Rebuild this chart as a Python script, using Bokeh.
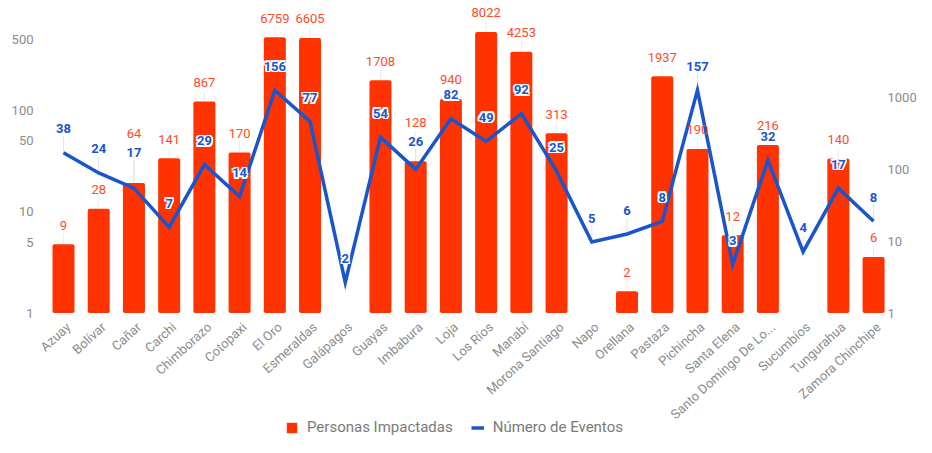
import math
from bokeh.plotting import figure
from bokeh.models import (ColumnDataSource, Range1d, LogScale, LogAxis, FixedTicker,
                          Legend, LegendItem)
from bokeh.core.properties import value
from bokeh.embed import file_html
from bokeh.resources import INLINE

# ---------------- data ----------------
provincias = ["Azuay", "Bolívar", "Cañar", "Carchi", "Chimborazo", "Cotopaxi", "El Oro",
              "Esmeraldas", "Galápagos", "Guayas", "Imbabura", "Loja", "Los Ríos", "Manabí",
              "Morona Santiago", "Napo", "Orellana", "Pastaza", "Pichincha", "Santa Elena",
              "Santo Domingo De Lo...", "Sucumbíos", "Tungurahua", "Zamora Chinchipe"]
personas = [9, 28, 64, 141, 867, 170, 6759, 6605, None, 1708, 128, 940, 8022, 4253, 313,
            None, 2, 1937, 190, 12, 216, None, 140, 6]
eventos = [38, 24, 17, 7, 29, 14, 156, 77, 2, 54, 26, 82, 49, 92, 25, 5, 6, 8, 157, 3, 32,
           4, 17, 8]
left_ticks = [1, 5, 10, 50, 100, 500]
right_ticks = [1, 10, 100, 1000]
serie_barras = "Personas Impactadas"
serie_linea = "Número de Eventos"

# ---------------- style / layout ----------------
FRAME_W, FRAME_H = 848, 437     # plotting frame (px)
BASE = 312.5                    # pixel row (from frame top) of the value 1
L_DEC = 101.5                   # px per decade, left axis
R_DEC = 72.0                    # px per decade, right axis
STEP = 35.22                    # px per category
FIRST = 25                      # px from frame left to the first category centre
BAR_COLOR = "#ff3300"
BAR_TXT = "#ff4a26"
BLUE = "#1a55cc"
GREY = "#8c8c8c"
FONT = value("Roboto")

LEFT_MAX = 10 ** (BASE / L_DEC)
RIGHT_MAX = 10 ** (BASE / R_DEC)
LEFT_MIN = 10 ** (-(FRAME_H - BASE) / L_DEC)
RIGHT_MIN = 10 ** (-(FRAME_H - BASE) / R_DEC)
X_START = -FIRST / STEP
X_END = X_START + FRAME_W / STEP

# label placement (pixel offsets) with simple collision avoidance
red_off, blue_off = [], []
for pv, ev in zip(personas, eventos):
    ev_px = BASE - math.log10(ev) * L_DEC
    b_pos = ev_px - 24
    if pv is not None:
        bar_px = BASE - math.log10(pv) * R_DEC
        r_pos = bar_px - 19
        d = abs(r_pos - b_pos)
        if d < 10:
            b_pos -= max(0.0, 12 - 2.7 * d)
            r_pos = b_pos - 19
        red_off.append(r_pos - bar_px)
    else:
        red_off.append(None)
    blue_off.append(b_pos - ev_px)

idx = list(range(len(provincias)))
bar_src = ColumnDataSource(dict(
    x=[i for i, v in zip(idx, personas) if v is not None],
    top=[v for v in personas if v is not None],
    txt=[str(v) for v in personas if v is not None],
    off=[o for o, v in zip(red_off, personas) if v is not None],
    stem=[v * 10 ** ((abs(o) - 8) / R_DEC) for o, v in zip(red_off, personas) if v is not None],
))
HALO = [-1.5, 0.0, 1.5]
line_data = dict(
    x=idx, y=eventos, name=provincias, txt=[str(v) for v in eventos], off=blue_off,
    stem=[v * 10 ** ((abs(o) - 8) / L_DEC) for o, v in zip(blue_off, eventos)],
)
for i, d in enumerate(HALO):
    line_data["off%d" % i] = [o + d for o in blue_off]
line_src = ColumnDataSource(line_data)

p = figure(x_range=Range1d(X_START, X_END), y_axis_type="log",
           y_range=Range1d(LEFT_MIN, LEFT_MAX), x_axis_location=None,
           frame_width=FRAME_W, frame_height=FRAME_H, output_backend="svg",
           toolbar_location=None, min_border_left=38, min_border_right=30,
           min_border_top=0, min_border_bottom=0)
p.extra_y_ranges = {"right": Range1d(RIGHT_MIN, RIGHT_MAX)}
p.extra_y_scales = {"right": LogScale()}
p.outline_line_color = None
p.xgrid.visible = False
p.ygrid.visible = False
p.background_fill_color = "white"

# stems
p.segment(x0="x", y0="top", x1="x", y1="stem", source=bar_src, y_range_name="right",
          line_color="#ececec", line_width=1)
p.segment(x0="x", y0="y", x1="x", y1="stem", source=line_src,
          line_color="#e2e2e2", line_width=1)

bars = p.vbar(x="x", top="top", bottom=1, width=22 / STEP, source=bar_src,
              y_range_name="right", fill_color=BAR_COLOR, line_color=None, border_radius=2)
line = p.line(x="x", y="y", source=line_src, line_color=BLUE, line_width=3.5,
              line_join="miter")

p.text(x="x", y="top", text="txt", y_offset="off", source=bar_src, y_range_name="right",
       text_align="center", text_baseline="middle", text_font=FONT,
       text_font_size="13px", text_color=BAR_TXT)
# white halo behind the blue labels
for i, dy in enumerate(HALO):
    for dx in HALO:
        if dx == 0 and dy == 0:
            continue
        p.text(x="x", y="y", text="txt", y_offset="off%d" % i, x_offset=dx, source=line_src,
               text_align="center", text_baseline="middle", text_font=FONT,
               text_font_size="13px", text_font_style="bold", text_color="white")
p.text(x="x", y="y", text="txt", y_offset="off", source=line_src,
       text_align="center", text_baseline="middle", text_font=FONT,
       text_font_size="13px", text_font_style="bold", text_color=BLUE)

# category labels (rotated), under the value-1 baseline
p.text(x="x", y=1, text="name", source=line_src, angle=0.74,
       x_offset=5, y_offset=12, text_align="right", text_baseline="alphabetic",
       text_font=FONT, text_font_size="13px", text_color=GREY)

# axes
ya = p.yaxis[0]
ya.ticker = FixedTicker(ticks=left_ticks)
ya.major_label_overrides = {t: str(t) for t in left_ticks}
ya2 = LogAxis(y_range_name="right", ticker=FixedTicker(ticks=right_ticks))
ya2.major_label_overrides = {t: str(t) for t in right_ticks}
p.add_layout(ya2, "right")
for ax in (ya, ya2):
    ax.axis_line_color = None
    ax.major_tick_line_color = None
    ax.minor_tick_line_color = None
    ax.major_tick_in = 0
    ax.major_tick_out = 0
    ax.major_label_text_font = "Roboto"
    ax.major_label_text_font_size = "13px"
    ax.major_label_text_color = GREY
ya.major_label_standoff = 5
ya2.major_label_standoff = 1

legend = Legend(items=[LegendItem(label=serie_barras, renderers=[bars]),
                       LegendItem(label=serie_linea, renderers=[line])],
                orientation="horizontal", location=(247, 1),
                border_line_color=None, background_fill_alpha=0,
                padding=0, margin=0, spacing=18, glyph_width=13, glyph_height=13,
                label_standoff=9, label_height=13,
                label_text_font="Roboto", label_text_font_size="15px",
                label_text_color="#7a7a7a")
p.add_layout(legend)

open("out.html", "w").write(file_html(p, INLINE))
